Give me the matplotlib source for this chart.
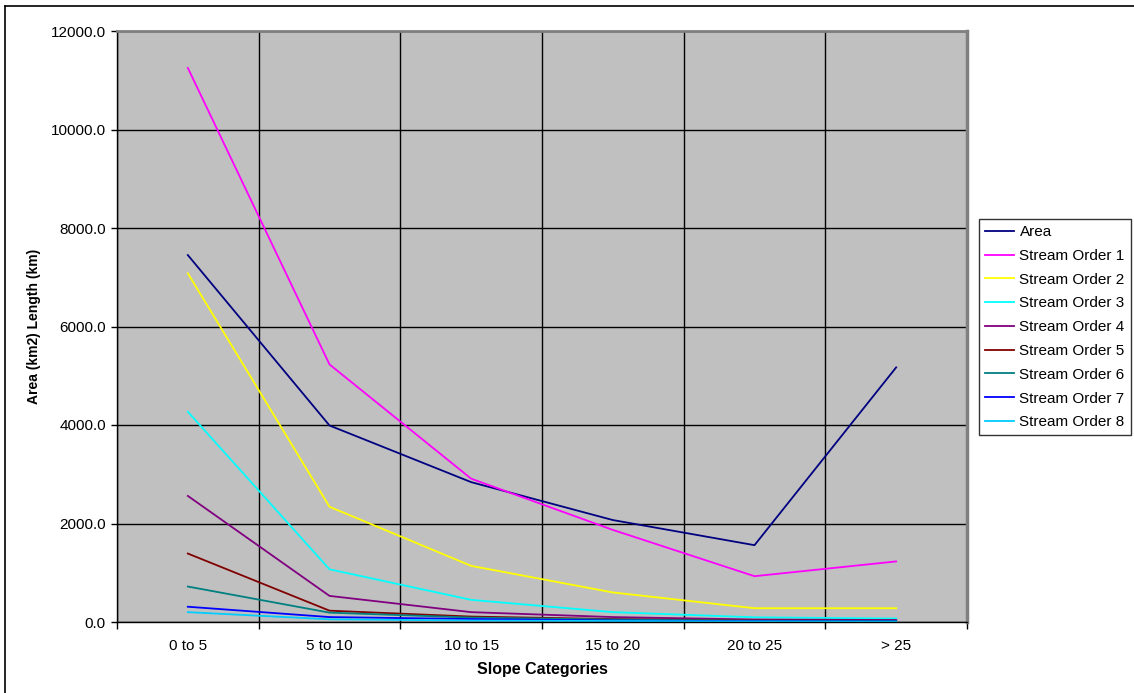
import numpy as np
import matplotlib
matplotlib.use('Agg')
import matplotlib.pyplot as plt
from matplotlib.lines import Line2D

plt.rcParams['font.family'] = ['Liberation Sans', 'DejaVu Sans']

categories = ['0 to 5', '5 to 10', '10 to 15', '15 to 20', '20 to 25', '> 25']

area = [7450, 3990, 2840, 2070, 1560, 5170]
order1 = [11250, 5230, 2910, 1870, 930, 1230]
order2 = [7080, 2340, 1140, 600, 280, 280]
order3 = [4270, 1070, 450, 200, 95, 70]
order4 = [2560, 530, 200, 100, 50, 40]
order5 = [1390, 230, 110, 60, 30, 25]
order6 = [720, 190, 90, 50, 25, 20]
order7 = [310, 100, 60, 30, 15, 10]
order8 = [200, 55, 30, 20, 10, 5]

series = [
    ('Area', area, '#000080'),
    ('Stream Order 1', order1, '#FF00FF'),
    ('Stream Order 2', order2, '#FFFF00'),
    ('Stream Order 3', order3, '#00FFFF'),
    ('Stream Order 4', order4, '#800080'),
    ('Stream Order 5', order5, '#800000'),
    ('Stream Order 6', order6, '#008080'),
    ('Stream Order 7', order7, '#0000FF'),
    ('Stream Order 8', order8, '#00CCFF'),
]

fig = plt.figure(figsize=(11.34, 6.93), dpi=100)
ax = fig.add_axes([117 / 1134, 1 - 622 / 693, 850 / 1134, 591 / 693])
ax.set_facecolor('#C0C0C0')

x = np.arange(len(categories))
for name, vals, col in series:
    ax.plot(x, vals, color=col, lw=1.3, label=name)

ax.set_xlim(-0.5, len(categories) - 0.5)
ax.set_ylim(0, 12000)
ax.set_xticks(x)
ax.set_xticklabels(categories)
ax.set_xticks(np.arange(-0.5, len(categories), 1.0), minor=True)
ax.set_yticks(np.arange(0, 12001, 2000))
ax.set_yticklabels(['%.1f' % v for v in np.arange(0, 12001, 2000)])

ax.set_axisbelow(True)
ax.grid(True, which='minor', axis='x', color='black', lw=1)
ax.grid(True, which='major', axis='y', color='black', lw=1)
ax.tick_params(axis='x', which='major', length=0, pad=12, labelsize=11)
ax.tick_params(axis='x', which='minor', length=5, width=1, direction='out')
ax.tick_params(axis='y', length=4, width=1, direction='out', pad=4, labelsize=11)

for s in ['left', 'bottom']:
    ax.spines[s].set_color('black')
    ax.spines[s].set_linewidth(1)
ax.spines['top'].set_color('#808080')
ax.spines['top'].set_linewidth(2)
ax.spines['right'].set_color('#808080')
ax.spines['right'].set_linewidth(2.5)

ax.set_xlabel('Slope Categories', fontsize=11.5, fontweight='bold', labelpad=7)
ax.set_ylabel('Area (km2) Length (km)', fontsize=10, fontweight='bold', labelpad=7)

leg = ax.legend(loc='upper left', bbox_to_anchor=(979 / 1134, 1 - 219 / 693),
                bbox_transform=fig.transFigure, fontsize=11, frameon=True,
                fancybox=False, borderaxespad=0, handlelength=1.9,
                handletextpad=0.35, labelspacing=0.64, borderpad=0.4)
leg.get_frame().set_edgecolor('black')
leg.get_frame().set_linewidth(1)

# outer chart border (left and top visible in the crop)
fig.add_artist(Line2D([5 / 1134, 5 / 1134], [0, 1 - 6 / 693], transform=fig.transFigure, color='black', lw=1.2))
fig.add_artist(Line2D([5 / 1134, 1], [1 - 6 / 693, 1 - 6 / 693], transform=fig.transFigure, color='black', lw=1.2))

fig.savefig('out.png', dpi=100)
